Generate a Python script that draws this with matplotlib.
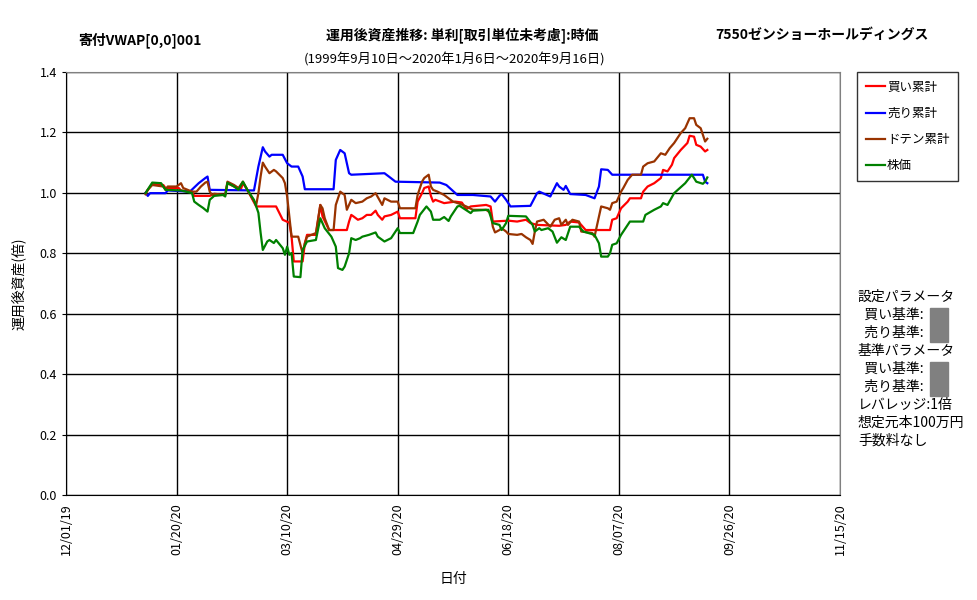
import datetime as dt
import matplotlib
matplotlib.use('Agg')
import matplotlib.pyplot as plt
import matplotlib.dates as mdates
from matplotlib.patches import Rectangle

plt.rcParams['font.family'] = ['Noto Sans CJK JP', 'DejaVu Sans']

start = dt.date(2020, 1, 6)

# day offsets from start, values (運用後資産, 倍)
buy_days = [0, 3, 8, 9, 15, 16, 21, 22, 29, 30, 36, 37, 43, 44, 46, 50, 59, 62, 65, 66, 67, 71, 72, 73,
            77, 79, 80, 83, 91, 92, 93, 94, 96, 98, 100, 102, 104, 105, 107, 108, 111, 114, 115, 122,
            123, 125, 126, 128, 129, 130, 131, 135, 140, 143, 145, 147, 154, 156, 157, 164, 168, 172,
            174, 177, 187, 190, 192, 196, 199, 210, 211, 213, 215, 218, 219, 224, 225, 227, 230, 233,
            234, 236, 238, 239, 242, 245, 246, 248, 249, 251, 253, 254]
buy_vals = [1.0, 1.030, 1.026, 1.016, 1.016, 1.008, 1.004, 0.990, 0.990, 0.993, 0.993, 1.032, 1.010,
            1.032, 1.010, 0.955, 0.955, 0.911, 0.901, 0.855, 0.773, 0.773, 0.833, 0.861, 0.861, 0.960,
            0.922, 0.877, 0.877, 0.905, 0.927, 0.922, 0.911, 0.916, 0.927, 0.927, 0.941, 0.927, 0.911,
            0.922, 0.927, 0.938, 0.916, 0.916, 0.971, 0.999, 1.016, 1.021, 0.990, 0.971, 0.977, 0.966,
            0.971, 0.968, 0.946, 0.955, 0.960, 0.955, 0.905, 0.908, 0.905, 0.911, 0.900, 0.894, 0.891,
            0.894, 0.905, 0.902, 0.877, 0.877, 0.911, 0.916, 0.949, 0.971, 0.982, 0.982, 1.004, 1.021,
            1.032, 1.049, 1.076, 1.071, 1.093, 1.115, 1.142, 1.165, 1.189, 1.186, 1.159, 1.153, 1.137,
            1.142]

sell_days = [0, 1, 2, 9, 10, 20, 24, 27, 28, 29, 49, 51, 53, 54, 56, 57, 62, 64, 66, 69, 71, 72, 85,
             86, 88, 90, 92, 93, 108, 110, 113, 133, 136, 141, 148, 156, 158, 160, 161, 163, 165, 174,
             177, 178, 183, 186, 187, 189, 190, 192, 199, 203, 205, 206, 209, 211, 252, 253, 254]
sell_vals = [1.0, 0.990, 0.999, 0.999, 1.008, 1.004, 1.032, 1.049, 1.054, 1.010, 1.008, 1.087, 1.151,
             1.137, 1.120, 1.126, 1.126, 1.098, 1.087, 1.087, 1.054, 1.012, 1.012, 1.109, 1.142, 1.131,
             1.065, 1.060, 1.065, 1.054, 1.037, 1.034, 1.026, 0.993, 0.993, 0.988, 0.971, 0.990, 0.996,
             0.977, 0.955, 0.957, 0.999, 1.004, 0.988, 1.032, 1.021, 1.010, 1.023, 0.996, 0.993, 0.982,
             1.021, 1.078, 1.076, 1.060, 1.060, 1.037, 1.032]

doten_days = [0, 1, 3, 8, 9, 10, 14, 16, 17, 21, 23, 25, 27, 28, 29, 30, 31, 36, 37, 40, 42, 44, 46,
              50, 51, 52, 53, 54, 56, 58, 59, 62, 63, 64, 65, 66, 69, 71, 72, 73, 75, 77, 79, 80, 81,
              83, 85, 86, 88, 90, 91, 93, 95, 98, 100, 102, 104, 107, 108, 111, 114, 115, 122, 123,
              125, 126, 128, 129, 130, 132, 135, 137, 139, 142, 145, 148, 154, 156, 157, 158, 160,
              161, 163, 164, 168, 170, 172, 174, 175, 176, 177, 180, 183, 185, 187, 188, 190, 191,
              193, 196, 197, 202, 203, 205, 206, 209, 210, 211, 213, 215, 216, 218, 220, 224, 225,
              227, 230, 233, 235, 237, 239, 242, 244, 246, 248, 249, 251, 253, 254]
doten_vals = [0.995, 1.010, 1.026, 1.021, 1.010, 1.021, 1.021, 1.032, 1.016, 1.004, 1.004, 1.021,
              1.034, 1.037, 1.004, 0.993, 0.997, 0.993, 1.037, 1.026, 1.016, 1.037, 1.010, 0.960,
              0.999, 1.054, 1.100, 1.087, 1.065, 1.076, 1.071, 1.049, 1.032, 0.988, 0.922, 0.855,
              0.855, 0.800, 0.833, 0.855, 0.861, 0.867, 0.960, 0.949, 0.916, 0.877, 0.877, 0.960,
              1.004, 0.993, 0.944, 0.977, 0.966, 0.971, 0.982, 0.988, 0.999, 0.960, 0.982, 0.971,
              0.971, 0.949, 0.949, 0.993, 1.037, 1.049, 1.060, 1.021, 1.010, 1.004, 0.993, 0.982,
              0.971, 0.964, 0.955, 0.944, 0.944, 0.933, 0.888, 0.869, 0.877, 0.883, 0.872, 0.864,
              0.861, 0.864, 0.853, 0.844, 0.831, 0.872, 0.905, 0.911, 0.888, 0.911, 0.916, 0.894,
              0.911, 0.894, 0.911, 0.905, 0.872, 0.867, 0.855, 0.922, 0.955, 0.949, 0.944, 0.966,
              0.971, 1.004, 1.016, 1.043, 1.060, 1.060, 1.087, 1.098, 1.104, 1.131, 1.126, 1.148,
              1.165, 1.198, 1.214, 1.247, 1.247, 1.225, 1.214, 1.170, 1.179]

stock_days = [0, 3, 7, 9, 16, 21, 22, 24, 26, 28, 29, 31, 35, 36, 37, 40, 42, 44, 46, 49, 51, 52, 53,
              55, 56, 58, 59, 62, 63, 64, 65, 66, 67, 70, 71, 73, 77, 79, 81, 84, 86, 87, 89, 90, 92,
              93, 95, 97, 98, 101, 104, 105, 108, 111, 114, 115, 121, 123, 124, 127, 129, 130, 133,
              135, 137, 138, 141, 142, 147, 148, 155, 157, 160, 161, 163, 164, 172, 175, 176, 178,
              179, 182, 184, 186, 188, 190, 192, 196, 198, 203, 205, 206, 209, 210, 211, 213, 215,
              217, 219, 225, 226, 230, 233, 234, 236, 239, 244, 247, 248, 249, 252, 253, 254]
stock_vals = [1.0, 1.034, 1.032, 1.010, 1.008, 0.999, 0.971, 0.960, 0.950, 0.938, 0.977, 0.990, 0.993,
              0.988, 1.033, 1.021, 1.010, 1.037, 1.010, 0.977, 0.934, 0.868, 0.811, 0.839, 0.844,
              0.834, 0.844, 0.817, 0.795, 0.822, 0.795, 0.801, 0.723, 0.721, 0.811, 0.839, 0.844,
              0.916, 0.883, 0.855, 0.822, 0.751, 0.745, 0.756, 0.800, 0.850, 0.844, 0.850, 0.855,
              0.861, 0.869, 0.855, 0.839, 0.850, 0.883, 0.867, 0.867, 0.905, 0.927, 0.955, 0.938,
              0.911, 0.911, 0.920, 0.907, 0.922, 0.955, 0.957, 0.933, 0.941, 0.944, 0.900, 0.894,
              0.877, 0.900, 0.924, 0.922, 0.894, 0.872, 0.883, 0.877, 0.883, 0.872, 0.835, 0.853,
              0.844, 0.888, 0.888, 0.872, 0.861, 0.833, 0.789, 0.789, 0.800, 0.828, 0.833, 0.861,
              0.883, 0.905, 0.905, 0.927, 0.944, 0.955, 0.966, 0.960, 0.999, 1.032, 1.060, 1.049,
              1.037, 1.030, 1.037, 1.051]

series = [('買い累計', buy_days, buy_vals, '#ff0000'),
          ('売り累計', sell_days, sell_vals, '#0000ff'),
          ('ドテン累計', doten_days, doten_vals, '#993300'),
          ('株価', stock_days, stock_vals, '#008000')]

tick_dates = [dt.date(2019, 12, 1) + dt.timedelta(days=50 * i) for i in range(8)]

fig = plt.figure(figsize=(9.77, 6), dpi=100)
ax = fig.add_axes([66 / 977, 1 - 495 / 600, 774 / 977, 423 / 600])

for name, days, vals, color in series:
    dates = [start + dt.timedelta(days=d) for d in days]
    ax.plot(dates, vals, color=color, linewidth=1.6, label=name)

ax.set_xlim(tick_dates[0], tick_dates[-1])
ax.set_ylim(0, 1.4)
ax.set_xticks(tick_dates)
ax.xaxis.set_major_formatter(mdates.DateFormatter('%m/%d/%y'))
ax.set_yticks([0.2 * i for i in range(8)])
ax.yaxis.set_major_formatter(plt.FormatStrFormatter('%.1f'))
ax.tick_params(axis='x', labelrotation=90, labelsize=9, length=0, pad=6)
ax.tick_params(axis='y', labelsize=9, length=3)
ax.grid(True, color='black', linewidth=1)
for s in ['top', 'right']:
    ax.spines[s].set_color('#808080')
for s in ['left', 'bottom']:
    ax.spines[s].set_color('black')

ax.set_ylabel('運用後資産(倍)', fontsize=10, labelpad=10)
ax.set_xlabel('日付', fontsize=10, labelpad=12)

fig.text(140 / 977, 1 - 40 / 600, '寄付VWAP[0,0]001', ha='center', va='center', fontsize=10, fontweight='bold')
fig.text(462 / 977, 1 - 35 / 600, '運用後資産推移: 単利[取引単位未考慮]:時価', ha='center', va='center',
         fontsize=10, fontweight='bold')
fig.text(822 / 977, 1 - 35 / 600, '7550ゼンショーホールディングス', ha='center', va='center',
         fontsize=10, fontweight='bold')
fig.text(455 / 977, 1 - 60 / 600, '(1999年9月10日～2020年1月6日～2020年9月16日)', ha='center', va='center',
         fontsize=9.5)

leg = fig.legend(loc='upper left', bbox_to_anchor=(857 / 977, 1 - 72 / 600), frameon=True,
                 fancybox=False, edgecolor='black', fontsize=9, handlelength=1.5,
                 labelspacing=1.05, borderpad=0.7, handletextpad=0.2, borderaxespad=0)
leg.get_frame().set_linewidth(1)

info = ['設定パラメータ', '  買い基準:', '  売り基準:', '基準パラメータ', '  買い基準:', '  売り基準:',
        'レバレッジ:1倍', '想定元本100万円', '手数料なし']
for i, line in enumerate(info):
    fig.text(858 / 977, 1 - (297 + 18 * i) / 600, line, ha='left', va='center', fontsize=10)

for top in [308, 362]:
    fig.patches.append(Rectangle((930 / 977, 1 - (top + 34) / 600), 18 / 977, 34 / 600,
                                 transform=fig.transFigure, color='#808080'))

fig.savefig('out.png', dpi=100)
